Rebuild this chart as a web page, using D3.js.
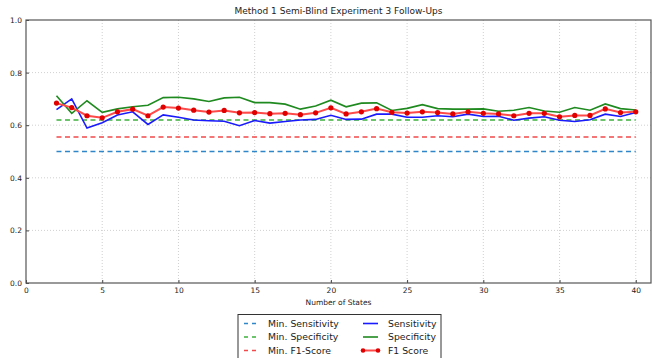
<!DOCTYPE html>
<html>
<head>
<meta charset="utf-8">
<script src="https://cdn.jsdelivr.net/npm/d3@7"></script>
<style>
  body { margin: 0; background: #fff; }
  svg text { font-family: "DejaVu Sans", sans-serif; fill: #222; }
</style>
</head>
<body>
<div id="chart"></div>
<script>
//chart values
var states = [2, 3, 4, 5, 6, 7, 8, 9, 10, 11, 12, 13, 14, 15, 16, 17, 18, 19, 20,
              21, 22, 23, 24, 25, 26, 27, 28, 29, 30, 31, 32, 33, 34, 35, 36, 37, 38, 39, 40];

var sensitivity = [0.659, 0.700, 0.589, 0.609, 0.639, 0.651, 0.603, 0.639, 0.630, 0.620,
                   0.617, 0.615, 0.598, 0.618, 0.608, 0.614, 0.620, 0.622, 0.638, 0.622,
                   0.623, 0.642, 0.642, 0.630, 0.630, 0.636, 0.632, 0.642, 0.633, 0.634,
                   0.619, 0.627, 0.632, 0.619, 0.614, 0.621, 0.642, 0.633, 0.648];

var specificity = [0.712, 0.645, 0.693, 0.649, 0.662, 0.670, 0.676, 0.705, 0.706, 0.700,
                   0.690, 0.704, 0.706, 0.686, 0.686, 0.680, 0.661, 0.673, 0.695, 0.670,
                   0.684, 0.685, 0.656, 0.664, 0.678, 0.663, 0.661, 0.661, 0.662, 0.653,
                   0.657, 0.667, 0.654, 0.649, 0.667, 0.657, 0.681, 0.663, 0.658];

var f1score = [0.684, 0.667, 0.636, 0.628, 0.651, 0.661, 0.636, 0.669, 0.665, 0.657,
               0.650, 0.656, 0.647, 0.648, 0.644, 0.645, 0.640, 0.647, 0.666, 0.643,
               0.651, 0.663, 0.649, 0.646, 0.651, 0.648, 0.643, 0.651, 0.645, 0.643,
               0.636, 0.645, 0.645, 0.632, 0.637, 0.637, 0.662, 0.648, 0.651];

//minimum thresholds (flat dashed lines)
var minNames = ["Min. Sensitivity", "Min. Specificity", "Min. F1-Score"];
var minValues = [0.5, 0.62, 0.555];

var xTicks = [0, 5, 10, 15, 20, 25, 30, 35, 40];
var yTicks = [0.0, 0.2, 0.4, 0.6, 0.8, 1.0];

var w = 652,
    h = 358;

//plot box (named so they don't clash with window.top etc.)
var pLeft = 26, pRight = 651, pTop = 20, pBottom = 283;

var svg = d3.select("#chart").append("svg")
    .attr("width", w)
    .attr("height", h);

var x = d3.scaleLinear().domain([0, 41]).range([pLeft, pRight]);
var y = d3.scaleLinear().domain([0, 1]).range([pBottom, pTop]);

//dotted grid
svg.append("g").selectAll("line").data(xTicks.slice(1))
    .enter().append("line")
    .attr("x1", function(d){ return x(d); })
    .attr("x2", function(d){ return x(d); })
    .attr("y1", pTop)
    .attr("y2", pBottom)
    .attr("stroke", "#c4c4c4")
    .attr("stroke-width", 0.8)
    .attr("stroke-dasharray", "1,2");

svg.append("g").selectAll("line").data(yTicks.slice(1, -1))
    .enter().append("line")
    .attr("x1", pLeft)
    .attr("x2", pRight)
    .attr("y1", function(d){ return y(d); })
    .attr("y2", function(d){ return y(d); })
    .attr("stroke", "#c4c4c4")
    .attr("stroke-width", 0.8)
    .attr("stroke-dasharray", "1,2");

//axes with inward ticks
var xAxis = svg.append("g")
    .attr("transform", "translate(0," + pBottom + ")")
    .call(d3.axisBottom(x).tickValues(xTicks).tickSize(-3).tickPadding(5).tickFormat(d3.format("d")));
var yAxis = svg.append("g")
    .attr("transform", "translate(" + pLeft + ",0)")
    .call(d3.axisLeft(y).tickValues(yTicks).tickSize(-3).tickPadding(4).tickFormat(d3.format(".1f")));

[xAxis, yAxis].forEach(function(a){
  a.select(".domain").remove();
  a.selectAll("line").attr("stroke", "#444");
  a.selectAll("text").attr("font-size", 7.5).attr("fill", "#222")
      .style("font-family", "DejaVu Sans, sans-serif");
});

//frame
svg.append("rect")
    .attr("x", pLeft)
    .attr("y", pTop)
    .attr("width", pRight - pLeft)
    .attr("height", pBottom - pTop)
    .attr("fill", "none")
    .attr("stroke", "#555")
    .attr("stroke-width", 1.2);

var plot = svg.append("g");

//threshold lines
var minColors = ["#2f86c9", "#3cb03c", "#f24a4a"];
minValues.forEach(function(v, i){
  plot.append("line")
      .attr("x1", x(states[0]))
      .attr("x2", x(states[states.length - 1]))
      .attr("y1", y(v))
      .attr("y2", y(v))
      .attr("stroke", minColors[i])
      .attr("stroke-width", 1.5)
      .attr("stroke-dasharray", "5,3.5");
});

var line = d3.line()
    .x(function(d, i){ return x(states[i]); })
    .y(function(d){ return y(d); });

plot.append("path")
    .datum(sensitivity)
    .attr("d", line)
    .attr("fill", "none")
    .attr("stroke", "#1a1aff")
    .attr("stroke-width", 1.6);

plot.append("path")
    .datum(specificity)
    .attr("d", line)
    .attr("fill", "none")
    .attr("stroke", "#1f8a1f")
    .attr("stroke-width", 1.6);

plot.append("path")
    .datum(f1score)
    .attr("d", line)
    .attr("fill", "none")
    .attr("stroke", "#ff4a4a")
    .attr("stroke-width", 2);

plot.append("g").selectAll("circle").data(f1score)
    .enter().append("circle")
    .attr("cx", function(d, i){ return x(states[i]); })
    .attr("cy", function(d){ return y(d); })
    .attr("r", 2.6)
    .attr("fill", "#e00000");

//title and axis label
svg.append("text")
    .text("Method 1 Semi-Blind Experiment 3 Follow-Ups")
    .attr("x", (pLeft + pRight) / 2)
    .attr("y", 14)
    .attr("text-anchor", "middle")
    .attr("font-size", 9);

svg.append("text")
    .text("Number of States")
    .attr("x", (pLeft + pRight) / 2)
    .attr("y", 305)
    .attr("text-anchor", "middle")
    .attr("font-size", 7.5);

//legend
var legend = svg.append("g");
legend.append("rect")
    .attr("x", 238)
    .attr("y", 314.5)
    .attr("width", 203)
    .attr("height", 50)
    .attr("fill", "#fff")
    .attr("stroke", "#333")
    .attr("stroke-width", 1);

var rowY = [323.5, 337, 350.5];
minNames.forEach(function(name, i){
  legend.append("line")
      .attr("x1", 244).attr("x2", 258)
      .attr("y1", rowY[i]).attr("y2", rowY[i])
      .attr("stroke", minColors[i])
      .attr("stroke-width", 1.5)
      .attr("stroke-dasharray", "4,4");
  legend.append("text")
      .text(name)
      .attr("x", 268)
      .attr("y", rowY[i] + 3.3)
      .attr("font-size", 9.3);
});

var seriesNames = ["Sensitivity", "Specificity", "F1 Score"];
var seriesColors = ["#1a1aff", "#1f8a1f", "#ff4a4a"];
seriesNames.forEach(function(name, i){
  legend.append("line")
      .attr("x1", 363).attr("x2", 378)
      .attr("y1", rowY[i]).attr("y2", rowY[i])
      .attr("stroke", seriesColors[i])
      .attr("stroke-width", i == 2 ? 2 : 1.6);
  legend.append("text")
      .text(name)
      .attr("x", 388)
      .attr("y", rowY[i] + 3.3)
      .attr("font-size", 9.3);
});
legend.selectAll("circle").data([363, 378])
    .enter().append("circle")
    .attr("cx", function(d){ return d; })
    .attr("cy", rowY[2])
    .attr("r", 2.3)
    .attr("fill", "#e00000");
</script>
</body>
</html>
